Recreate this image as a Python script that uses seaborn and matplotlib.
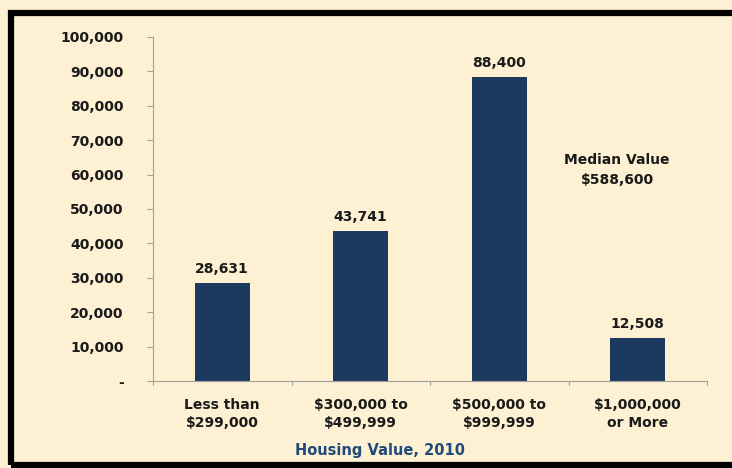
import matplotlib
matplotlib.use("Agg")
import matplotlib.pyplot as plt
import seaborn as sns
from matplotlib.patches import Rectangle

categories = ["Less than\n$299,000", "$300,000 to\n$499,999", "$500,000 to\n$999,999", "$1,000,000\nor More"]
counts = [28631, 43741, 88400, 12508]
yticks = [0, 10000, 20000, 30000, 40000, 50000, 60000, 70000, 80000, 90000, 100000]
ytick_labels = ["-"] + ["{:,}".format(v) for v in yticks[1:]]

bg = "#FDF0D3"
navy = "#1B3A5E"

sns.set_style("white")
plt.rcParams["font.family"] = ["DejaVu Sans"]
plt.rcParams["font.sans-serif"] = ["DejaVu Sans"]
fnt = dict(family="DejaVu Sans", fontweight="bold", fontsize=10)

fig = plt.figure(figsize=(7.32, 4.68), dpi=100)
fig.patch.set_facecolor(bg)
ax = fig.add_axes([153 / 732, 1 - 381 / 468, (707 - 153) / 732, (381 - 37) / 468])
ax.set_facecolor(bg)

sns.barplot(x=categories, y=counts, color=navy, width=0.4, saturation=1,
            edgecolor=navy, linewidth=0, ax=ax)

for i, v in enumerate(counts):
    ax.text(i, v + 2000, "{:,}".format(v), ha="center", va="bottom",
            color="#1a1a1a", **fnt)

ax.set_ylim(0, 100000)
ax.set_xlim(-0.5, 3.5)
ax.set_yticks(yticks)
ax.set_yticklabels(ytick_labels, color="#1a1a1a", **fnt)
ax.set_xticks([0, 1, 2, 3])
ax.set_xticklabels(categories, color="#1a1a1a", linespacing=1.4, **fnt)
ax.tick_params(axis="x", length=0, pad=12)
ax.tick_params(axis="y", length=4, color="#a0a0a0", pad=17, left=True)
for b in [-0.5, 0.5, 1.5, 2.5, 3.5]:
    ax.plot([b, b], [0, -1200], color="#a0a0a0", lw=0.8, clip_on=False)

for side in ["top", "right"]:
    ax.spines[side].set_visible(False)
for side in ["left", "bottom"]:
    ax.spines[side].set_color("#a0a0a0")
    ax.spines[side].set_linewidth(0.8)

ax.text(2.85, 61300, "Median Value\n$588,600", ha="center", va="center",
        color="#1a1a1a", linespacing=1.5, **fnt)

fig.text(380 / 732, 1 - 451 / 468, "Housing Value, 2010", ha="center", va="center",
         family="DejaVu Sans", fontsize=10.5, fontweight="bold", color="#1F4A7A")

fig.patches.append(Rectangle((11 / 732, 3 / 468), 1.2, 1 - 16 / 468,
                             transform=fig.transFigure, fill=False,
                             edgecolor="black", linewidth=4.5, clip_on=False))

fig.savefig("out.png", dpi=100, facecolor=bg)
